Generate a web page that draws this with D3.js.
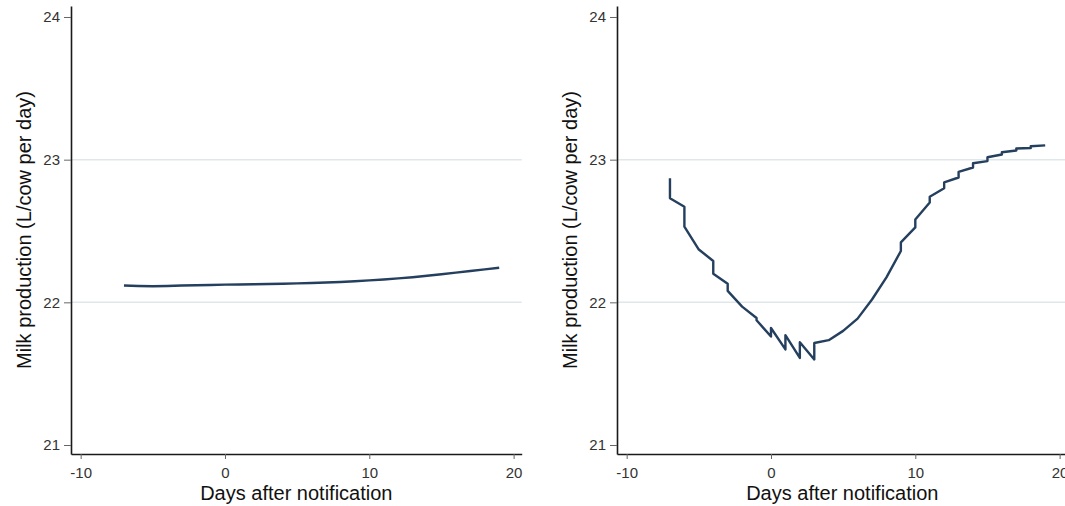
<!DOCTYPE html>
<html>
<head>
<meta charset="utf-8">
<script src="https://cdn.jsdelivr.net/npm/d3@7"></script>
<style>
  body { margin: 0; background: #fff; }
  text { font-family: "Liberation Sans", Arial, sans-serif; }
</style>
</head>
<body>
<div id="chart"></div>
<script>
const yTicks = [21, 22, 23, 24]
const xTicks = [-10, 0, 10, 20]
const gridValues = [22, 23]
const xTitle = 'Days after notification'
const yTitle = 'Milk production (L/cow per day)'

const leftDays = [-7, -6, -5, -4, -3, -2, -1, 0, 1, 2, 3, 4, 5, 6, 7, 8, 9, 10, 11, 12, 13, 14, 15, 16, 17, 18, 19]
const leftMilk = [22.118, 22.115, 22.113, 22.115, 22.118, 22.12, 22.122, 22.124, 22.125, 22.127, 22.128, 22.13, 22.133, 22.136, 22.139, 22.143, 22.148, 22.154, 22.16, 22.168, 22.176, 22.186, 22.197, 22.208, 22.22, 22.231, 22.242]

const rightDays = [-7, -7, -6, -6, -5, -4, -4, -3, -3, -2, -1, -1, 0, 0, 1, 1, 2, 2, 3, 3, 4, 5, 6, 7, 8, 9, 9, 10, 10, 11, 11, 12, 12, 13, 13, 14, 14, 15, 15, 16, 16, 17, 17, 18, 18, 19]
const rightMilk = [22.87, 22.73, 22.67, 22.53, 22.37, 22.29, 22.2, 22.13, 22.08, 21.97, 21.89, 21.875, 21.76, 21.82, 21.67, 21.77, 21.61, 21.72, 21.6, 21.715, 21.735, 21.8, 21.886, 22.02, 22.175, 22.36, 22.42, 22.525, 22.58, 22.7, 22.74, 22.8, 22.84, 22.875, 22.915, 22.945, 22.975, 22.99, 23.017, 23.036, 23.052, 23.064, 23.078, 23.082, 23.094, 23.1]

const width = 1065
const height = 506

const svg = d3.select('#chart').append('svg').attr('width', width).attr('height', height)

function drawPanel(offset, days, milk) {
  const left = 71 + offset
  const right = 521.7 + offset
  const top = 6
  const bottom = 454

  const xScale = d3.scaleLinear().domain([-10.67, 20.56]).range([left, right])
  const yScale = d3.scaleLinear().domain([20.937, 24.077]).range([bottom, top])

  const g = svg.append('g')

  g.selectAll('.grid').data(gridValues)
    .enter()
    .append('line')
    .attr('x1', left)
    .attr('x2', right)
    .attr('y1', function(d) { return yScale(d) })
    .attr('y2', function(d) { return yScale(d) })
    .attr('stroke', '#dfe7ea')
    .attr('stroke-width', 1.5)

  const points = days.map(function(d, i) {
    return [d, milk[i]]
  })

  const line = d3.line()
    .x(function(d) { return xScale(d[0]) })
    .y(function(d) { return yScale(d[1]) })

  g.append('path')
    .datum(points)
    .attr('d', line)
    .attr('fill', 'none')
    .attr('stroke', '#253f5e')
    .attr('stroke-width', 2.4)
    .attr('stroke-linejoin', 'round')

  // plain hyphen for negatives, like the original
  const fmt = function(d) { return String(d) }

  const xAxis = d3.axisBottom(xScale).tickValues(xTicks).tickFormat(fmt).tickSize(5).tickPadding(8).tickSizeOuter(0)
  const yAxis = d3.axisLeft(yScale).tickValues(yTicks).tickFormat(fmt).tickSize(7).tickPadding(4).tickSizeOuter(0)

  const gx = g.append('g').attr('transform', 'translate(0,' + bottom + ')').call(xAxis)
  const gy = g.append('g').attr('transform', 'translate(' + left + ',0)').call(yAxis)

  ;[gx, gy].forEach(function(ax) {
    ax.attr('font-size', 15).attr('font-family', '"Liberation Sans", Arial, sans-serif')
    ax.select('.domain').attr('stroke', '#1a1a1a').attr('stroke-width', 1.6)
    ax.selectAll('.tick line').attr('stroke', '#666').attr('stroke-width', 1)
    ax.selectAll('.tick text').attr('fill', '#333')
  })

  g.append('text')
    .attr('x', (left + right) / 2)
    .attr('y', 500)
    .attr('text-anchor', 'middle')
    .attr('font-size', '20px')
    .attr('fill', '#111')
    .text(xTitle)

  g.append('text')
    .attr('transform', 'translate(' + (31 + offset) + ',' + ((top + bottom) / 2) + ') rotate(-90)')
    .attr('text-anchor', 'middle')
    .attr('font-size', '20px')
    .attr('fill', '#111')
    .text(yTitle)
}

drawPanel(0, leftDays, leftMilk)
drawPanel(546, rightDays, rightMilk)
</script>
</body>
</html>
